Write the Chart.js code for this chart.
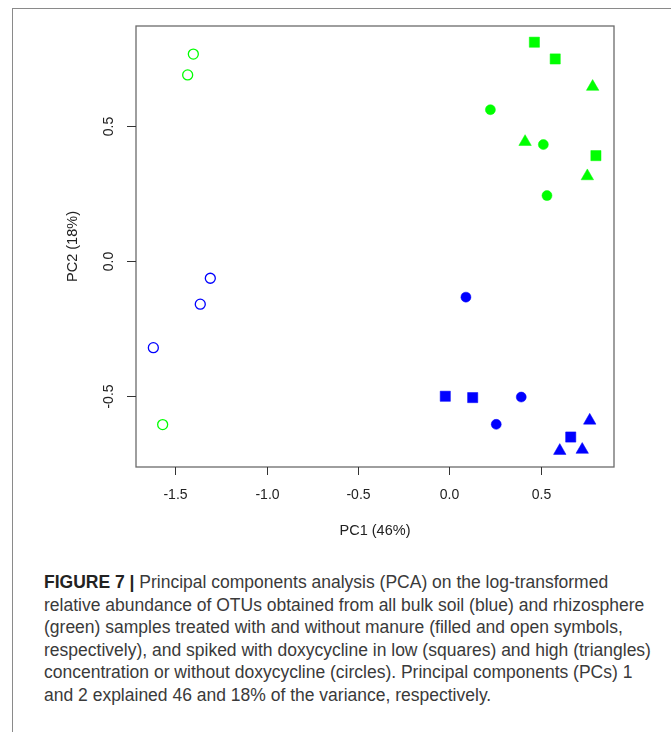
<!DOCTYPE html>
<html>
<head>
<meta charset="utf-8">
<script src="https://cdn.jsdelivr.net/npm/chart.js@4.4.1/dist/chart.umd.min.js"></script>
<style>
  html, body { margin: 0; padding: 0; background: #fff; }
  body { width: 671px; height: 732px; position: relative; overflow: hidden; }
  #frameTop { position: absolute; left: 12px; top: 8px; width: 659px; height: 0; border-top: 1.5px solid #8a8a8a; }
  #frameLeft { position: absolute; left: 12px; top: 8px; width: 0; height: 724px; border-left: 1.5px solid #8a8a8a; }
  #wrap { position: absolute; left: 0; top: 0; width: 671px; height: 560px; }
  #caption { position: absolute; left: 44px; top: 571px; font-family: "Liberation Sans", Arial, sans-serif;
             font-size: 17.5px; line-height: 22.6px; color: #3a3a3a; white-space: nowrap; }
  #caption b { color: #222; }
</style>
</head>
<body>
<div id="frameTop"></div>
<div id="frameLeft"></div>
<div id="wrap"><canvas id="pca"></canvas></div>
<div id="caption">
  <div><b>FIGURE 7 |</b> Principal components analysis (PCA) on the log-transformed</div>
  <div>relative abundance of OTUs obtained from all bulk soil (blue) and rhizosphere</div>
  <div>(green) samples treated with and without manure (filled and open symbols,</div>
  <div>respectively), and spiked with doxycycline in low (squares) and high (triangles)</div>
  <div>concentration or without doxycycline (circles). Principal components (PCs) 1</div>
  <div>and 2 explained 46 and 18% of the variance, respectively.</div>
</div>
<script>
// ejes
const xTicks = [-1.5, -1.0, -0.5, 0.0, 0.5];
const yTicks = [-0.5, 0.0, 0.5];
const xLimits = [-1.716, 0.902];
const yLimits = [-0.763, 0.870];

// suelo (azul) sin estiercol
const bulkOpen = [[-1.309, -0.064], [-1.364, -0.160], [-1.621, -0.321]];
// rizosfera (verde) sin estiercol
const rhizoOpen = [[-1.402, 0.766], [-1.433, 0.689], [-1.570, -0.606]];
// suelo con estiercol: sin doxi, baja, alta
const bulkNone = [[0.091, -0.134], [0.394, -0.504], [0.257, -0.605]];
const bulkLow = [[-0.022, -0.501], [0.128, -0.506], [0.665, -0.652]];
const bulkHigh = [[0.769, -0.591], [0.605, -0.703], [0.728, -0.699]];
// rizosfera con estiercol
const rhizoNone = [[0.225, 0.560], [0.515, 0.431], [0.535, 0.242]];
const rhizoLow = [[0.466, 0.810], [0.580, 0.748], [0.803, 0.390]];
const rhizoHigh = [[0.785, 0.645], [0.415, 0.441], [0.756, 0.314]];

const AZUL = '#0000ff';
const VERDE = '#00ff00';

const toPts = arr => arr.map(p => ({ x: p[0], y: p[1] }));

function serie(nombre, datos, color, forma, relleno) {
  const r = forma === 'circle' ? 5 : 7.2;
  return {
    label: nombre,
    data: toPts(datos),
    pointStyle: forma,
    pointRadius: r,
    pointHoverRadius: r,
    backgroundColor: relleno ? color : 'rgba(0,0,0,0)',
    borderColor: color,
    borderWidth: relleno ? 0.5 : 1.3
  };
}

// ejes estilo R: caja, marcas y etiquetas
const pluginEjesR = {
  id: 'pluginEjesR',
  afterDraw(chart) {
    const { ctx, chartArea: a, scales: { x, y } } = chart;
    ctx.save();
    ctx.strokeStyle = '#6b6b6b';
    ctx.lineWidth = 1.3;
    ctx.strokeRect(a.left, a.top, a.right - a.left, a.bottom - a.top);

    ctx.strokeStyle = '#333';
    ctx.lineWidth = 1;
    ctx.fillStyle = '#222';
    ctx.font = '14px "Liberation Sans", Arial, sans-serif';
    ctx.textAlign = 'center';
    ctx.textBaseline = 'middle';
    xTicks.forEach(v => {
      const px = Math.round(x.getPixelForValue(v)) + 0.5;
      ctx.beginPath();
      ctx.moveTo(px, a.bottom);
      ctx.lineTo(px, a.bottom + 8);
      ctx.stroke();
      ctx.fillText(v.toFixed(1), px, a.bottom + 28);
    });
    yTicks.forEach(v => {
      const py = Math.round(y.getPixelForValue(v)) + 0.5;
      ctx.beginPath();
      ctx.moveTo(a.left, py);
      ctx.lineTo(a.left - 9, py);
      ctx.stroke();
      ctx.save();
      ctx.translate(a.left - 27, py);
      ctx.rotate(-Math.PI / 2);
      ctx.fillText(v.toFixed(1), 0, 0);
      ctx.restore();
    });

    ctx.font = '14.5px "Liberation Sans", Arial, sans-serif';
    ctx.fillText('PC1 (46%)', (a.left + a.right) / 2, a.bottom + 64);
    ctx.save();
    ctx.translate(a.left - 63, (a.top + a.bottom) / 2);
    ctx.rotate(-Math.PI / 2);
    ctx.fillText('PC2 (18%)', 0, 0);
    ctx.restore();
    ctx.restore();
  }
};

new Chart(document.getElementById('pca'), {
  type: 'scatter',
  data: {
    datasets: [
      serie('Bulk soil, no manure', bulkOpen, AZUL, 'circle', false),
      serie('Rhizosphere, no manure', rhizoOpen, VERDE, 'circle', false),
      serie('Bulk soil, manure', bulkNone, AZUL, 'circle', true),
      serie('Bulk soil, manure + low doxycycline', bulkLow, AZUL, 'rect', true),
      serie('Bulk soil, manure + high doxycycline', bulkHigh, AZUL, 'triangle', true),
      serie('Rhizosphere, manure', rhizoNone, VERDE, 'circle', true),
      serie('Rhizosphere, manure + low doxycycline', rhizoLow, VERDE, 'rect', true),
      serie('Rhizosphere, manure + high doxycycline', rhizoHigh, VERDE, 'triangle', true)
    ]
  },
  options: {
    responsive: true,
    maintainAspectRatio: false,
    animation: false,
    layout: { padding: { left: 136, top: 26, right: 57, bottom: 93 } },
    plugins: { legend: { display: false }, tooltip: { enabled: false } },
    scales: {
      x: { type: 'linear', display: false, min: xLimits[0], max: xLimits[1] },
      y: { type: 'linear', display: false, min: yLimits[0], max: yLimits[1] }
    }
  },
  plugins: [pluginEjesR]
});
</script>
</body>
</html>
